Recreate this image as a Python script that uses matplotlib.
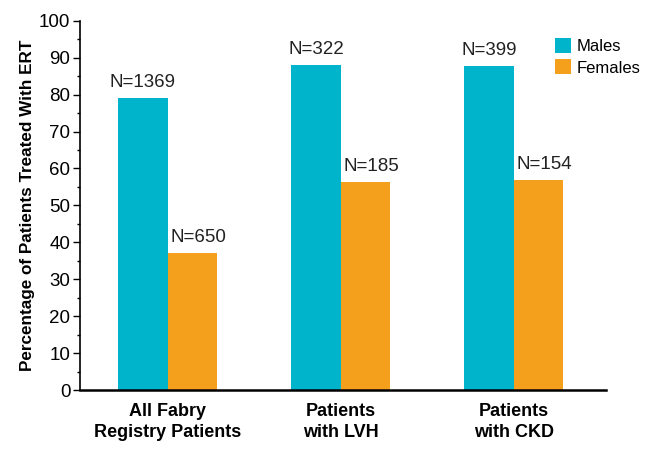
import numpy as np
import matplotlib.pyplot as plt
from matplotlib.ticker import MultipleLocator

plt.rcParams['font.family'] = ['Liberation Sans', 'DejaVu Sans']

groups = ['All Fabry\nRegistry Patients', 'Patients\nwith LVH', 'Patients\nwith CKD']
males = [79.0, 88.0, 87.8]
females = [37.1, 56.4, 56.9]
males_n = ['N=1369', 'N=322', 'N=399']
females_n = ['N=650', 'N=185', 'N=154']

teal = '#00B4CB'
orange = '#F5A01D'

fig = plt.figure(figsize=(6.45, 4.5), dpi=100)
ax = fig.add_axes([0.124, 0.133, 0.816, 0.821])

x = np.arange(len(groups))
w = 0.286
b1 = ax.bar(x - w / 2, males, w, color=teal, label='Males')
b2 = ax.bar(x + w / 2, females, w, color=orange, label='Females')

for bar, txt in zip(b1, males_n):
    ax.annotate(txt, (bar.get_x() + bar.get_width() / 2, bar.get_height()),
                xytext=(0, 5), textcoords='offset points',
                ha='center', va='bottom', fontsize=13.5, color='#222222')
for bar, txt in zip(b2, females_n):
    ax.annotate(txt, (bar.get_x() + bar.get_width() / 2, bar.get_height()),
                xytext=(4, 5), textcoords='offset points',
                ha='center', va='bottom', fontsize=13.5, color='#222222')

ax.set_xlim(-0.507, 2.534)
ax.set_ylim(0, 100)
ax.yaxis.set_major_locator(MultipleLocator(10))
ax.yaxis.set_minor_locator(MultipleLocator(5))
ax.tick_params(axis='y', which='major', length=5, width=1, labelsize=13.5, pad=2)
ax.tick_params(axis='y', which='minor', length=2.5, width=1)
ax.set_xticks(x)
ax.set_xticklabels(groups, fontsize=13, fontweight='bold', linespacing=1.3)
ax.tick_params(axis='x', length=0, pad=9)

ax.set_ylabel('Percentage of Patients Treated With ERT', fontsize=12.3,
              fontweight='bold', labelpad=3)

for s in ['top', 'right']:
    ax.spines[s].set_visible(False)
ax.spines['left'].set_linewidth(1.2)
ax.spines['bottom'].set_linewidth(1.8)

ax.legend(loc='upper left', bbox_to_anchor=(0.886, 0.975), frameon=False,
          fontsize=12, handlelength=1.0, handleheight=1.0,
          handletextpad=0.3, labelspacing=0.3, borderpad=0)

fig.savefig('out.png', dpi=100)
